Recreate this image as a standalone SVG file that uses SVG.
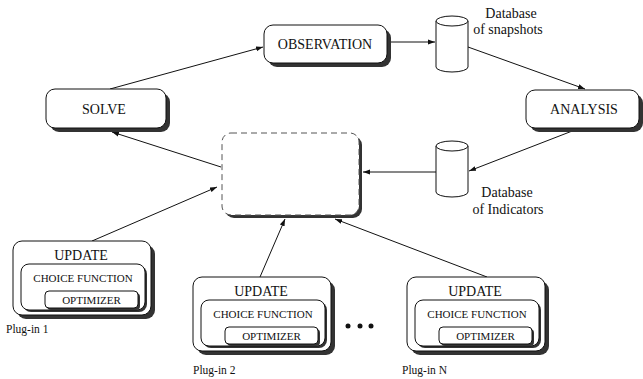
<svg xmlns="http://www.w3.org/2000/svg" width="643" height="379" viewBox="0 0 643 379" font-family="'Liberation Serif', 'DejaVu Serif', serif">
<style>
text{font-family:'Liberation Serif','DejaVu Serif',serif;fill:#111}
.big{font-size:14px;text-anchor:middle}
.lbl{font-size:14px;text-anchor:middle}
.sm{font-size:11px;text-anchor:middle}
.pl{font-size:11.5px}
.box{fill:#fff;stroke:#111;stroke-width:1}
.sh{fill:#333}
.edge{stroke:#111;stroke-width:1;fill:none}
</style>
<defs>
<marker id="ah" markerWidth="8" markerHeight="6" refX="7" refY="3" orient="auto" markerUnits="userSpaceOnUse">
<path d="M0,0.5 L7,3 L0,5.5 z" fill="#111"/>
</marker>
</defs>

<g id="connectors">
<line class="edge" x1="110" y1="89" x2="263" y2="47" marker-end="url(#ah)"/>
<line class="edge" x1="388" y1="42" x2="435" y2="42" marker-end="url(#ah)"/>
<line class="edge" x1="468" y1="47" x2="585" y2="89" marker-end="url(#ah)"/>
<line class="edge" x1="580" y1="128" x2="469" y2="171" marker-end="url(#ah)"/>
<line class="edge" x1="436" y1="172" x2="363" y2="172" marker-end="url(#ah)"/>
<line class="edge" x1="221" y1="167" x2="112" y2="132" marker-end="url(#ah)"/>
<line class="edge" x1="92" y1="241" x2="217" y2="187" marker-end="url(#ah)"/>
<line class="edge" x1="260" y1="277" x2="285" y2="219" marker-end="url(#ah)"/>
<line class="edge" x1="487" y1="277" x2="335" y2="219" marker-end="url(#ah)"/>
</g>

<g id="solve">
<rect class="sh" x="50" y="93" width="120" height="39" rx="9"/>
<rect class="box" x="46" y="89" width="120" height="39" rx="9"/>
<text class="big" x="104" y="114">SOLVE</text>
</g>

<g id="observation">
<rect class="sh" x="268" y="29" width="123" height="38" rx="9"/>
<rect class="box" x="264" y="25" width="123" height="38" rx="9"/>
<text class="big" x="325" y="49">OBSERVATION</text>
</g>

<g id="analysis">
<rect class="sh" x="530" y="94" width="113" height="38" rx="9"/>
<rect class="box" x="526" y="90" width="113" height="38" rx="9"/>
<text class="big" x="584" y="114">ANALYSIS</text>
</g>

<g id="db-snapshots">
<path class="box" d="M436,21 L436,67 A16,5 0 0 0 468,67 L468,21"/>
<ellipse class="box" cx="452" cy="21" rx="16" ry="5"/>
<text class="lbl" x="511" y="18">Database</text>
<text class="lbl" x="508" y="34">of snapshots</text>
</g>

<g id="db-indicators">
<path class="box" d="M436,146 L436,192 A16,5 0 0 0 468,192 L468,146"/>
<ellipse class="box" cx="452" cy="146" rx="16" ry="5"/>
<text class="lbl" x="507" y="197">Database</text>
<text class="lbl" x="508" y="214">of Indicators</text>
</g>

<g id="core">
<rect class="sh" x="225" y="136" width="137" height="82" rx="9"/>
<rect x="222" y="133" width="137" height="82" rx="9" fill="#fff" stroke="#555" stroke-width="1" stroke-dasharray="6 4"/>
</g>

<g id="plugin1" transform="translate(13,241)">
<rect class="sh" x="4" y="4" width="138" height="74" rx="9"/>
<rect class="box" x="0" y="0" width="138" height="74" rx="9"/>
<text class="big" x="68" y="19">UPDATE</text>
<rect class="sh" x="10" y="25" width="124" height="46" rx="8"/>
<rect class="box" x="8" y="23" width="124" height="46" rx="8"/>
<text class="sm" x="70" y="41">CHOICE FUNCTION</text>
<rect class="sh" x="34" y="52" width="93" height="17" rx="4"/>
<rect class="box" x="32" y="50" width="93" height="17" rx="4"/>
<text class="sm" x="78.5" y="63">OPTIMIZER</text>
<text class="pl" x="-7" y="92">Plug-in 1</text>
</g>
<g id="plugin2" transform="translate(193,277)">
<rect class="sh" x="4" y="4" width="138" height="74" rx="9"/>
<rect class="box" x="0" y="0" width="138" height="74" rx="9"/>
<text class="big" x="68" y="19">UPDATE</text>
<rect class="sh" x="10" y="25" width="124" height="46" rx="8"/>
<rect class="box" x="8" y="23" width="124" height="46" rx="8"/>
<text class="sm" x="70" y="41">CHOICE FUNCTION</text>
<rect class="sh" x="34" y="52" width="93" height="17" rx="4"/>
<rect class="box" x="32" y="50" width="93" height="17" rx="4"/>
<text class="sm" x="78.5" y="63">OPTIMIZER</text>
<text class="pl" x="0" y="97">Plug-in 2</text>
</g>
<g id="pluginN" transform="translate(407,277)">
<rect class="sh" x="4" y="4" width="138" height="74" rx="9"/>
<rect class="box" x="0" y="0" width="138" height="74" rx="9"/>
<text class="big" x="68" y="19">UPDATE</text>
<rect class="sh" x="10" y="25" width="124" height="46" rx="8"/>
<rect class="box" x="8" y="23" width="124" height="46" rx="8"/>
<text class="sm" x="70" y="41">CHOICE FUNCTION</text>
<rect class="sh" x="34" y="52" width="93" height="17" rx="4"/>
<rect class="box" x="32" y="50" width="93" height="17" rx="4"/>
<text class="sm" x="78.5" y="63">OPTIMIZER</text>
<text class="pl" x="-5" y="97">Plug-in N</text>
</g>

<g id="dots" fill="#111">
<circle cx="348" cy="326" r="2.5"/>
<circle cx="360" cy="326" r="2.5"/>
<circle cx="371" cy="326" r="2.5"/>
</g>
</svg>
